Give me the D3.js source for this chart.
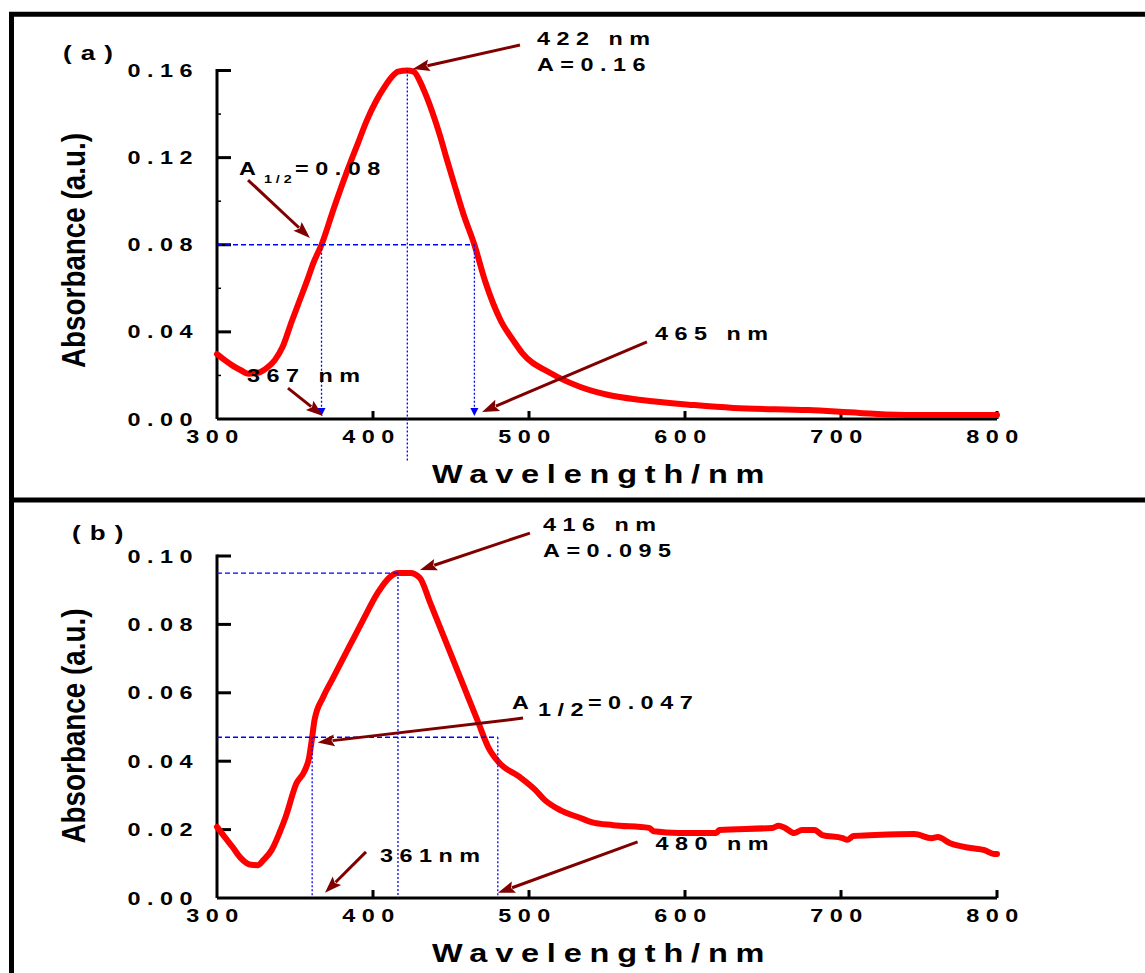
<!DOCTYPE html>
<html>
<head>
<meta charset="utf-8">
<script src="https://cdn.jsdelivr.net/npm/d3@7/dist/d3.min.js"></script>
<style>
  html, body { margin: 0; padding: 0; background: #fff; }
  svg { display: block; }
  text { font-family: "Liberation Sans", Arial, sans-serif; font-weight: bold; fill: #000; }
</style>
</head>
<body>
<svg id="chart" width="1145" height="973"></svg>
<script>
// ---- Spectrum (a) ----
const wavelengthA = [300, 305, 310, 315, 320, 326, 332, 337, 342, 348, 353, 358, 362, 367, 375, 383,
  390, 396, 402, 407, 412, 416, 422, 426, 432, 438, 443, 447, 452, 458, 465, 472, 482, 490, 496,
  514, 533, 551, 572, 606, 631, 679, 712, 746, 800];
const absorbanceA = [0.0298, 0.0270, 0.0245, 0.0225, 0.0208, 0.0212, 0.0235, 0.0270, 0.0330, 0.0450,
  0.0545, 0.0640, 0.0720, 0.0800, 0.0970, 0.1130, 0.1260, 0.1370, 0.1460, 0.1520, 0.1570, 0.1595,
  0.1600, 0.1595, 0.1520, 0.1410, 0.1300, 0.1200, 0.1080, 0.0940, 0.0800, 0.0630, 0.0450, 0.0360,
  0.0300, 0.0210, 0.0147, 0.0110, 0.0087, 0.0064, 0.0051, 0.0041, 0.0028, 0.0018, 0.0018];

// ---- Spectrum (b) ----
const wavelengthB = [300, 305, 310, 315, 319, 322, 326, 330, 335, 340, 344, 351, 356, 359, 361, 362.5,
  368, 374, 385, 394, 403, 411, 416, 424, 430, 436.5, 443, 449, 458, 467, 474, 481, 494, 504, 510,
  520, 533, 540, 554, 577, 580, 596, 620, 622, 656, 660, 664, 670, 675, 683, 688, 701, 704, 708,
  722, 747, 758, 762, 770, 783, 792, 798, 800];
const absorbanceB = [0.0208, 0.0178, 0.0149, 0.0118, 0.0102, 0.0097, 0.0096, 0.0112, 0.0140, 0.0190,
  0.0237, 0.0336, 0.0370, 0.0410, 0.0470, 0.0520, 0.0587, 0.0640, 0.0737, 0.0816, 0.0892, 0.0939,
  0.0950, 0.0950, 0.0936, 0.0865, 0.0791, 0.0723, 0.0621, 0.0519, 0.0440, 0.0395, 0.0354, 0.0316,
  0.0287, 0.0257, 0.0234, 0.0222, 0.0213, 0.0205, 0.0195, 0.0190, 0.0190, 0.0199, 0.0205, 0.0211,
  0.0205, 0.0190, 0.0199, 0.0199, 0.0184, 0.0175, 0.0170, 0.0181, 0.0184, 0.0187, 0.0175, 0.0178,
  0.0160, 0.0146, 0.0140, 0.0129, 0.0129];

// ---- Axis ticks ----
const xTickValues = [300, 400, 500, 600, 700, 800];
const yTicksA = [0.00, 0.04, 0.08, 0.12, 0.16];
const yMinorA = [0.02, 0.06, 0.10, 0.14];
const yTicksB = [0.00, 0.02, 0.04, 0.06, 0.08, 0.10];

// ---- Band characteristics (peak, half maximum and its wavelengths) ----
const peakA = [422, 0.16];
const halfA = [367, 465, 0.08];
const peakB = [416, 0.095];
const halfB = [361, 480, 0.047];

const svg = d3.select("#chart");
const ARROW = "#800000", GUIDE = "#0000ff", CURVE = "#ff0000";
const SX = 1.3; // wide lettering of the figure

// outer frame and the rule between the two panels
svg.append("line").attr("x1", 9).attr("x2", 1145).attr("y1", 14.3).attr("y2", 14.3)
  .attr("stroke", "#000").attr("stroke-width", 5);
svg.append("line").attr("x1", 11.5).attr("x2", 11.5).attr("y1", 12).attr("y2", 973)
  .attr("stroke", "#000").attr("stroke-width", 5);
svg.append("line").attr("x1", 9).attr("x2", 1145).attr("y1", 500).attr("y2", 500)
  .attr("stroke", "#000").attr("stroke-width", 5);

function wideText(g, x, y, s, o = {}) {
  const size = o.size || 18, ls = o.ls == null ? 5 : o.ls, sx = o.sx || SX;
  return g.append("text")
    .attr("transform", `translate(${x},${y}) scale(${sx},1)`)
    .attr("font-size", size)
    .attr("letter-spacing", ls)
    .attr("text-anchor", o.anchor || "start")
    .text(s);
}

function arrow(g, x1, y1, x2, y2, color, w, len, half) {
  const dx = x2 - x1, dy = y2 - y1, d = Math.hypot(dx, dy);
  const ux = dx / d, uy = dy / d;
  const bx = x2 - ux * len, by = y2 - uy * len;
  g.append("line").attr("x1", x1).attr("y1", y1).attr("x2", bx + ux * 2).attr("y2", by + uy * 2)
    .attr("stroke", color).attr("stroke-width", w);
  g.append("path")
    .attr("d", `M${x2},${y2}L${bx - uy * half},${by + ux * half}L${bx + ux * 3},${by + uy * 3}L${bx + uy * half},${by - ux * half}Z`)
    .attr("fill", color);
}

function drawPanel(p) {
  const g = svg.append("g");
  const x = d3.scaleLinear().domain([300, 800]).range([217, 997]);
  const y = d3.scaleLinear().domain(p.yDomain).range(p.yRange);
  const y0 = y(0), xa = x(300);
  const ax = g.append("g").attr("stroke", "#000").attr("stroke-width", 3);

  // axis lines
  ax.append("line").attr("x1", xa).attr("x2", x(800)).attr("y1", y0).attr("y2", y0);
  ax.append("line").attr("x1", xa).attr("x2", xa).attr("y1", y0).attr("y2", y(p.yDomain[1]) - 1.5);
  // inward ticks
  ax.selectAll(".xt").data(xTickValues.slice(1)).join("line")
    .attr("x1", d => x(d)).attr("x2", d => x(d)).attr("y1", y0).attr("y2", y0 - 8);
  ax.selectAll(".yt").data(p.yTicks.slice(1)).join("line")
    .attr("x1", xa).attr("x2", xa + 14).attr("y1", d => y(d)).attr("y2", d => y(d));
  if (p.yMinor) {
    g.append("g").attr("stroke", "#000").attr("stroke-width", 1.5)
      .selectAll("line").data(p.yMinor).join("line")
      .attr("x1", xa).attr("x2", xa + 4).attr("y1", d => y(d)).attr("y2", d => y(d));
  }

  // tick labels
  p.yTicks.forEach(v => wideText(g, 199, y(v) + 6.5, d3.format(".2f")(v), { anchor: "end" }));
  xTickValues.forEach(v => wideText(g, x(v) - 1.5, y0 + 23.5, String(v), { anchor: "middle" }));

  // axis titles
  wideText(g, 432, y0 + 64, "Wavelength/nm", { size: 25, ls: 6 });
  g.append("text")
    .attr("transform", `translate(85,${p.titleY}) rotate(-90) scale(1,1.3)`)
    .attr("font-size", 25).attr("text-anchor", "middle")
    .attr("textLength", 235).attr("lengthAdjust", "spacingAndGlyphs")
    .text("Absorbance (a.u.)");
  wideText(g, p.tag[0], p.tag[1], p.tag[2], { size: 20, ls: 7 });

  // spectrum
  const pts = p.wl.map((w, i) => [w, p.ab[i]]);
  g.append("path").datum(pts)
    .attr("d", d3.line().x(d => x(d[0])).y(d => y(d[1])).curve(d3.curveMonotoneX))
    .attr("fill", "none").attr("stroke", CURVE).attr("stroke-width", 6)
    .attr("stroke-linejoin", "round").attr("stroke-linecap", "round");

  // guides at the peak and at half maximum
  const [pw, pa] = p.peak, [hl, hr, ha] = p.half;
  const gg = g.append("g").attr("stroke", GUIDE).attr("stroke-width", 1.3).attr("fill", "none");
  if (p.peakHLine) {
    gg.append("line").attr("x1", xa).attr("x2", x(pw)).attr("y1", y(pa)).attr("y2", y(pa))
      .attr("stroke-dasharray", "5,3");
  }
  gg.append("line").attr("x1", x(pw)).attr("x2", x(pw)).attr("y1", y(pa)).attr("y2", y(p.peakLineEnd))
    .attr("stroke-dasharray", "2,2");
  gg.append("line").attr("x1", xa).attr("x2", x(hr)).attr("y1", y(ha)).attr("y2", y(ha))
    .attr("stroke-dasharray", "5,3");
  [hl, hr].forEach(w => {
    gg.append("line").attr("x1", x(w)).attr("x2", x(w)).attr("y1", y(ha))
      .attr("y2", p.guideHeads ? y0 - 8 : y0).attr("stroke-dasharray", "2,2");
    if (p.guideHeads) {
      g.append("path").attr("d", `M${x(w) - 4},${y0 - 11}L${x(w) + 4},${y0 - 11}L${x(w)},${y0 - 3}Z`)
        .attr("fill", GUIDE);
    }
  });

  // annotations
  p.notes.forEach(n => {
    if (n.arrow) {
      const [a, b, c, d] = n.arrow;
      arrow(g, x(a), y(b), x(c), y(d), ARROW, 3, 17, 6);
    }
    (n.text || []).forEach(t => wideText(g, x(t[0]), y(t[1]), t[2], { size: t[3] || 18, ls: t[4] == null ? 5 : t[4] }));
  });
}

drawPanel({
  yDomain: [0, 0.16], yRange: [419, 70.5], yTicks: yTicksA, yMinor: yMinorA,
  wl: wavelengthA, ab: absorbanceA,
  peak: peakA, half: halfA, peakLineEnd: -0.0197, peakHLine: false, guideHeads: true,
  titleY: 250.5, tag: [63, 60, "(a)"],
  notes: [
    { arrow: [494.2, 0.1717, peakA[0] + 3.5, peakA[1] + 0.0007],
      text: [[505.1, 0.1717, `${peakA[0]} nm`], [505.1, 0.1598, `A=${peakA[1]}`]] },
    { arrow: [319.9, 0.1097, 359.6, 0.0831],
      text: [[314.1, 0.1120, "A"], [330.1, 0.1084, "1/2", 11, 3], [350.0, 0.1120, `=${halfA[2].toFixed(2)}`]] },
    { arrow: [345.5, 0.0142, halfA[0] + 0.9, 0.0014], text: [[319.2, 0.0170, `${halfA[0]} nm`]] },
    { arrow: [575.6, 0.0354, halfA[1] + 4.9, 0.0032], text: [[580.8, 0.0363, `${halfA[1]} nm`]] }
  ]
});

drawPanel({
  yDomain: [0, 0.10], yRange: [898, 556], yTicks: yTicksB,
  wl: wavelengthB, ab: absorbanceB,
  peak: peakB, half: halfB, peakLineEnd: 0, peakHLine: true, guideHeads: false,
  titleY: 726, tag: [72, 540, "(b)"],
  notes: [
    { arrow: [500.6, 0.1067, 430.1, 0.0959],
      text: [[509.0, 0.1073, `${peakB[0]} nm`], [509.0, 0.0997, `A=${peakB[1]}`]] },
    { arrow: [496.2, 0.0526, 364.5, 0.0455],
      text: [[489.1, 0.0553, "A"], [505.8, 0.0532, "1/2"], [537.8, 0.0553, `=${halfB[2]}`]] },
    { arrow: [395.5, 0.0135, 369.2, 0.0015], text: [[404.5, 0.0105, `${halfB[0]}nm`]] },
    { arrow: [569.6, 0.0164, halfB[1] + 0.1, 0.0015], text: [[581.1, 0.0140, `${halfB[1]} nm`]] }
  ]
});
</script>
</body>
</html>
